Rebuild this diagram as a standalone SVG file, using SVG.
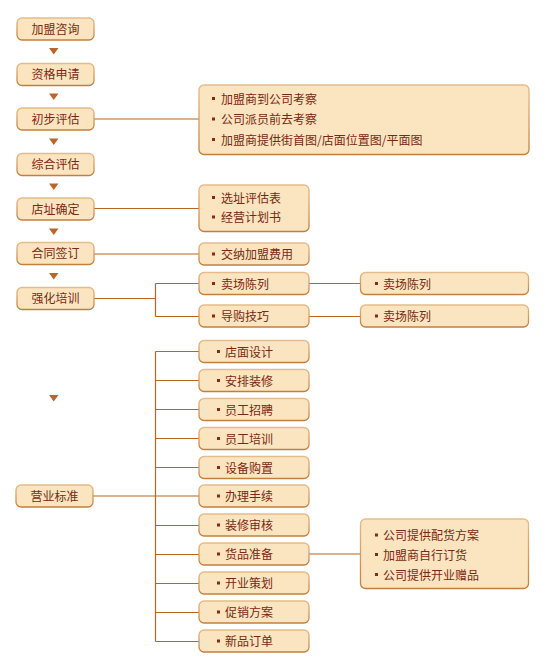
<svg xmlns="http://www.w3.org/2000/svg" width="546" height="672" viewBox="0 0 546 672">
<defs>
<linearGradient id="bd" x1="0" y1="0" x2="0" y2="1">
<stop offset="0" stop-color="#E4BC8C"/>
<stop offset="1" stop-color="#C47E3C"/>
</linearGradient>
<style>
.b{fill:#FBE5C1;stroke:url(#bd);stroke-width:1.3}
.t{font-family:"Noto Sans CJK SC","Noto Sans",sans-serif;font-size:12px;fill:#7A2810}
.c{text-anchor:middle}
.l{stroke:#B8661E;stroke-width:1.2;fill:none}
.a{fill:#B8662A}
.d{fill:#8A2A12}
</style>
</defs>
<rect width="546" height="672" fill="#FFFFFF"/>
<g id="connectors">
<path class="l" d="M94 119H199"/>
<path class="l" d="M94 208.5H199"/>
<path class="l" d="M94 254H199"/>
<path class="l" d="M94 298.5H155.5M155.5 283.5V316.5M155.5 283.5H199M155.5 316.5H199"/>
<path class="l" d="M309 283.5H360M309 316.5H360"/>
<path class="l" d="M93 496H199"/>
<path class="l" d="M155.5 351.5V641.5M155.5 351.5H199M155.5 380.5H199M155.5 409.5H199M155.5 438.5H199M155.5 467.5H199M155.5 525.5H199M155.5 554.5H199M155.5 583.5H199M155.5 612.5H199M155.5 641.5H199"/>
<path class="l" d="M309 554H360"/>
<polygon class="a" points="49,48 58.5,48 53.75,54.5"/>
<polygon class="a" points="49,93.5 58.5,93.5 53.75,100"/>
<polygon class="a" points="49,138.5 58.5,138.5 53.75,145"/>
<polygon class="a" points="49,183.5 58.5,183.5 53.75,190"/>
<polygon class="a" points="49,228.5 58.5,228.5 53.75,235"/>
<polygon class="a" points="49,273 58.5,273 53.75,279.5"/>
<polygon class="a" points="49,395 58.5,395 53.75,401.5"/>
</g>
<g id="n1"><rect class="b" x="17" y="18" width="77" height="22" rx="5"/><text class="t c" x="55.5" y="33.5">加盟咨询</text></g>
<g id="n2"><rect class="b" x="17" y="63.5" width="77" height="22" rx="5"/><text class="t c" x="55.5" y="79">资格申请</text></g>
<g id="n3"><rect class="b" x="17" y="108" width="77" height="22" rx="5"/><text class="t c" x="55.5" y="123.5">初步评估</text></g>
<g id="n4"><rect class="b" x="17" y="153.5" width="77" height="22" rx="5"/><text class="t c" x="55.5" y="169">综合评估</text></g>
<g id="n5"><rect class="b" x="17" y="198" width="77" height="22" rx="5"/><text class="t c" x="55.5" y="213.5">店址确定</text></g>
<g id="n6"><rect class="b" x="17" y="242.5" width="77" height="22" rx="5"/><text class="t c" x="55.5" y="258">合同签订</text></g>
<g id="n7"><rect class="b" x="17" y="287.5" width="77" height="22" rx="5"/><text class="t c" x="55.5" y="303">强化培训</text></g>
<g id="n8"><rect class="b" x="16" y="485" width="77" height="22" rx="5"/><text class="t c" x="54.5" y="500.5">营业标准</text></g>

<g id="r1"><rect class="b" x="199" y="85" width="330" height="69.5" rx="5"/>
<rect class="d" x="212" y="97" width="3" height="3"/><text class="t" x="221" y="103.5">加盟商到公司考察</text>
<rect class="d" x="212" y="117.5" width="3" height="3"/><text class="t" x="221" y="124">公司派员前去考察</text>
<rect class="d" x="212" y="138" width="3" height="3"/><text class="t" x="221" y="144.5">加盟商提供街首图/店面位置图/平面图</text></g>
<g id="r2"><rect class="b" x="199" y="185" width="110" height="46.5" rx="5"/>
<rect class="d" x="212" y="196" width="3" height="3"/><text class="t" x="221" y="202.5">选址评估表</text>
<rect class="d" x="212" y="215.5" width="3" height="3"/><text class="t" x="221" y="222">经营计划书</text></g>
<g id="r3"><rect class="b" x="199" y="243" width="110" height="22" rx="5"/>
<rect class="d" x="212" y="252.5" width="3" height="3"/><text class="t" x="221" y="259">交纳加盟费用</text></g>
<g id="r4"><rect class="b" x="199" y="272.5" width="110" height="22" rx="5"/>
<rect class="d" x="212" y="282" width="3" height="3"/><text class="t" x="221" y="288.5">卖场陈列</text></g>
<g id="r5"><rect class="b" x="199" y="305" width="110" height="22" rx="5"/>
<rect class="d" x="212" y="314.5" width="3" height="3"/><text class="t" x="221" y="321">导购技巧</text></g>
<g id="r6"><rect class="b" x="360.5" y="272.5" width="168" height="22" rx="5"/>
<rect class="d" x="375" y="282" width="3" height="3"/><text class="t" x="383" y="288.5">卖场陈列</text></g>
<g id="r7"><rect class="b" x="360.5" y="305" width="168" height="22" rx="5"/>
<rect class="d" x="375" y="314.5" width="3" height="3"/><text class="t" x="383" y="321">卖场陈列</text></g>

<g id="s1"><rect class="b" x="199" y="340.5" width="110" height="22" rx="5"/><rect class="d" x="217" y="350" width="3" height="3"/><text class="t" x="225" y="356.5">店面设计</text></g>
<g id="s2"><rect class="b" x="199" y="369.5" width="110" height="22" rx="5"/><rect class="d" x="217" y="379" width="3" height="3"/><text class="t" x="225" y="385.5">安排装修</text></g>
<g id="s3"><rect class="b" x="199" y="398.5" width="110" height="22" rx="5"/><rect class="d" x="217" y="408" width="3" height="3"/><text class="t" x="225" y="414.5">员工招聘</text></g>
<g id="s4"><rect class="b" x="199" y="427.5" width="110" height="22" rx="5"/><rect class="d" x="217" y="437" width="3" height="3"/><text class="t" x="225" y="443.5">员工培训</text></g>
<g id="s5"><rect class="b" x="199" y="456.5" width="110" height="22" rx="5"/><rect class="d" x="217" y="466" width="3" height="3"/><text class="t" x="225" y="472.5">设备购置</text></g>
<g id="s6"><rect class="b" x="199" y="485" width="110" height="22" rx="5"/><rect class="d" x="217" y="494.5" width="3" height="3"/><text class="t" x="225" y="501">办理手续</text></g>
<g id="s7"><rect class="b" x="199" y="514" width="110" height="22" rx="5"/><rect class="d" x="217" y="523.5" width="3" height="3"/><text class="t" x="225" y="530">装修审核</text></g>
<g id="s8"><rect class="b" x="199" y="543" width="110" height="22" rx="5"/><rect class="d" x="217" y="552.5" width="3" height="3"/><text class="t" x="225" y="559">货品准备</text></g>
<g id="s9"><rect class="b" x="199" y="572" width="110" height="22" rx="5"/><rect class="d" x="217" y="581.5" width="3" height="3"/><text class="t" x="225" y="588">开业策划</text></g>
<g id="s10"><rect class="b" x="199" y="601" width="110" height="22" rx="5"/><rect class="d" x="217" y="610.5" width="3" height="3"/><text class="t" x="225" y="617">促销方案</text></g>
<g id="s11"><rect class="b" x="199" y="630" width="110" height="22" rx="5"/><rect class="d" x="217" y="639.5" width="3" height="3"/><text class="t" x="225" y="646">新品订单</text></g>

<g id="r8"><rect class="b" x="360.5" y="519" width="168" height="69.5" rx="5"/>
<rect class="d" x="375" y="533.5" width="3" height="3"/><text class="t" x="383" y="540">公司提供配货方案</text>
<rect class="d" x="375" y="553" width="3" height="3"/><text class="t" x="383" y="559.5">加盟商自行订货</text>
<rect class="d" x="375" y="573" width="3" height="3"/><text class="t" x="383" y="579.5">公司提供开业赠品</text></g>
</svg>
